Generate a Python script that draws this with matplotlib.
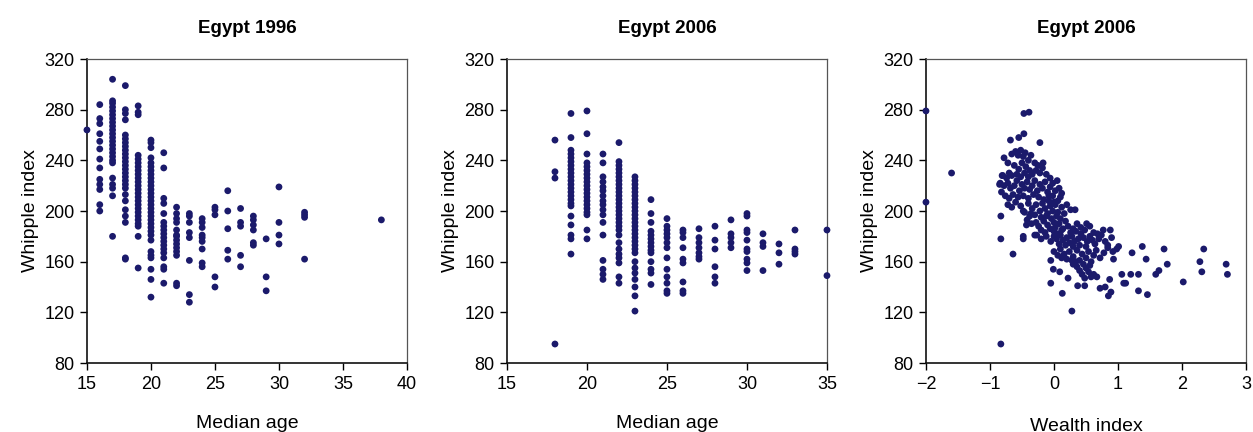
import matplotlib
matplotlib.use("Agg")
import matplotlib.pyplot as plt

# Egypt 1996: median age -> Whipple index values by age column
age_1996 = {
    15: [264],
    16: [284, 273, 269, 261, 255, 249, 241, 234, 225, 221, 217, 205, 200],
    17: [304, 287, 285, 282, 279, 276, 273, 270, 267, 264, 261, 258, 255, 252,
         249, 246, 243, 240, 238, 226, 221, 218, 212, 180],
    18: [299, 280, 277, 272, 260, 257, 254, 251, 248, 245, 242, 239, 236, 233,
         230, 227, 224, 221, 218, 213, 208, 201, 196, 191, 163, 162],
    19: [283, 278, 276, 244, 241, 238, 235, 232, 229, 226, 223, 220, 217, 214,
         211, 208, 205, 202, 199, 196, 193, 190, 188, 180, 155],
    20: [256, 254, 250, 242, 238, 235, 232, 229, 226, 223, 220, 217, 214, 211,
         208, 205, 202, 199, 196, 193, 190, 187, 184, 181, 177, 168, 165, 163,
         154, 146, 132],
    21: [246, 234, 210, 206, 198, 191, 188, 185, 182, 179, 176, 173, 170, 167,
         163, 156, 154, 143],
    22: [203, 198, 194, 191, 185, 181, 180, 177, 174, 171, 168, 165, 143, 141],
    23: [198, 196, 191, 183, 179, 161, 134, 128],
    24: [194, 191, 187, 181, 179, 176, 170, 159, 156],
    25: [203, 201, 197, 148, 140],
    26: [216, 200, 186, 169, 162],
    27: [202, 191, 188, 165, 156],
    28: [196, 193, 189, 185, 175, 173],
    29: [178, 148, 137],
    30: [219, 191, 181, 174],
    32: [199, 197, 195, 162],
    38: [193],
}

# Egypt 2006: median age -> Whipple index values by age column
age_2006 = {
    18: [256, 231, 226, 95],
    19: [277, 258, 248, 245, 242, 239, 236, 233, 230, 227, 224, 221, 218, 215,
         212, 209, 206, 204, 196, 189, 181, 178, 166],
    20: [279, 261, 245, 238, 235, 232, 229, 226, 223, 220, 217, 214, 211, 208,
         205, 202, 199, 197, 185, 178],
    21: [245, 238, 227, 223, 219, 216, 212, 208, 205, 201, 197, 191, 181, 161,
         154, 150, 146],
    22: [254, 239, 236, 233, 230, 227, 224, 221, 218, 215, 212, 209, 206, 203,
         200, 197, 194, 191, 188, 185, 181, 175, 170, 166, 163, 159, 148, 143],
    23: [227, 224, 221, 218, 215, 212, 209, 206, 203, 200, 197, 194, 191, 188,
         185, 182, 179, 176, 173, 170, 167, 160, 155, 151, 146, 140, 133, 121],
    24: [209, 198, 191, 184, 181, 178, 175, 172, 169, 167, 160, 154, 151, 142],
    25: [194, 188, 185, 182, 179, 175, 171, 163, 154, 148, 143, 137, 135],
    26: [185, 183, 179, 171, 162, 159, 144, 137, 135],
    27: [186, 179, 175, 171, 167, 164, 162],
    28: [188, 177, 170, 156, 148, 143],
    29: [193, 182, 179, 175, 171],
    30: [198, 196, 185, 183, 177, 170, 168, 162, 159, 153],
    31: [182, 175, 172, 153],
    32: [174, 167, 158],
    33: [185, 170, 168, 166],
    35: [185, 149],
}

# Egypt 2006: wealth index vs Whipple index
wealth_2006 = [
    (-2.0, 279), (-2.0, 207), (-1.60, 230), (-0.83, 95), (-0.83, 178), (-0.83, 196),
    (-0.64, 166), (-0.85, 221), (-0.82, 215), (-0.81, 228), (-0.68, 256), (-0.55, 258),
    (-0.47, 261), (-0.47, 277), (-0.39, 278), (-0.22, 254), (-0.48, 178), (-0.48, 180),
    (-0.43, 189), (-0.48, 200), (-0.38, 196), (-0.27, 181), (-0.17, 238), (-0.05, 161),
    (-0.05, 143), (-0.01, 154), (0.09, 152), (0.13, 135), (0.22, 147), (0.28, 121),
    (0.28, 161), (0.33, 201), (0.37, 141), (0.48, 141), (0.51, 190), (0.67, 148),
    (0.72, 139), (0.80, 140), (0.87, 146), (0.85, 133), (0.89, 136), (0.77, 185),
    (0.88, 185), (0.93, 162), (1.01, 172), (1.06, 150), (1.09, 143), (1.12, 143),
    (1.20, 150), (1.22, 167), (1.32, 150), (1.32, 137), (1.38, 172), (1.44, 162),
    (1.46, 134), (1.59, 150), (1.64, 153), (1.72, 170), (1.77, 158), (2.02, 144),
    (2.28, 160), (2.31, 152), (2.34, 170), (2.69, 158), (2.71, 150),
    (-0.78, 242), (-0.72, 238), (-0.66, 245), (-0.60, 247), (-0.56, 244), (-0.52, 248),
    (-0.48, 243), (-0.45, 246), (-0.40, 240), (-0.36, 244), (-0.30, 238), (-0.25, 236),
    (-0.62, 236), (-0.55, 233), (-0.50, 238), (-0.44, 235), (-0.38, 232), (-0.70, 230),
    (-0.74, 226), (-0.80, 228), (-0.66, 228), (-0.58, 229), (-0.52, 227), (-0.46, 230),
    (-0.40, 227), (-0.34, 229), (-0.28, 232), (-0.22, 230), (-0.18, 234), (-0.12, 229),
    (-0.06, 226), (-0.02, 222), (0.05, 224), (0.08, 218), (0.12, 214),
    (-0.84, 222), (-0.78, 220), (-0.72, 222), (-0.68, 218), (-0.62, 220), (-0.58, 224),
    (-0.54, 216), (-0.50, 221), (-0.46, 218), (-0.42, 223), (-0.38, 217), (-0.34, 220),
    (-0.30, 224), (-0.26, 216), (-0.22, 221), (-0.18, 218), (-0.14, 223), (-0.10, 215),
    (-0.06, 219), (-0.02, 212), (0.02, 216), (-0.76, 212), (-0.70, 210), (-0.64, 213),
    (-0.56, 211), (-0.48, 212), (-0.40, 210), (-0.32, 213), (-0.24, 211), (-0.16, 209),
    (-0.08, 212), (0.06, 208), (0.10, 211),
    (-0.72, 205), (-0.66, 203), (-0.60, 207), (-0.52, 204), (-0.46, 199), (-0.40, 206),
    (-0.34, 202), (-0.28, 205), (-0.22, 200), (-0.18, 206), (-0.14, 202), (-0.10, 198),
    (-0.06, 204), (-0.02, 200), (0.02, 205), (0.06, 199), (0.12, 203), (0.16, 198),
    (0.20, 205), (0.26, 201), (-0.30, 197), (-0.20, 195), (-0.12, 196), (-0.04, 194),
    (0.04, 196), (0.10, 194), (-0.36, 198), (-0.08, 208), (0.0, 207),
    (-0.42, 193), (-0.35, 190), (-0.28, 191), (-0.24, 188), (-0.16, 192), (-0.10, 189),
    (-0.06, 186), (0.0, 191), (0.02, 187), (0.08, 190), (0.14, 186), (0.18, 192),
    (0.22, 188), (0.30, 186), (0.36, 190), (0.42, 187), (0.48, 185), (0.56, 188),
    (-0.20, 185), (-0.14, 183), (0.0, 184), (0.06, 182), (0.12, 185), (0.26, 183),
    (0.34, 184),
    (-0.30, 181), (-0.20, 178), (-0.12, 180), (-0.05, 176), (0.0, 180), (0.04, 178),
    (0.10, 181), (0.14, 177), (0.20, 179), (0.24, 175), (0.28, 180), (0.32, 176),
    (0.38, 178), (0.42, 182), (0.46, 179), (0.52, 176), (0.56, 180), (0.60, 177),
    (0.64, 174), (0.70, 178), (0.74, 181), (0.80, 176), (0.84, 173), (0.90, 179),
    (0.62, 183), (0.68, 182), (0.30, 172), (0.40, 173), (0.50, 172), (0.18, 173),
    (0.08, 174),
    (0.0, 168), (0.06, 165), (0.10, 170), (0.16, 166), (0.20, 162), (0.24, 168),
    (0.30, 164), (0.36, 169), (0.40, 161), (0.44, 166), (0.50, 163), (0.54, 168),
    (0.58, 160), (0.62, 165), (0.66, 169), (0.72, 163), (0.78, 167), (0.84, 171),
    (0.92, 168), (0.98, 170), (0.12, 163), (0.34, 160), (0.46, 158), (0.56, 157),
    (0.36, 156), (0.40, 153), (0.44, 150), (0.50, 155), (0.54, 152), (0.58, 148),
    (0.62, 150), (0.48, 147), (0.30, 158),
]

titles = ["Egypt 1996", "Egypt 2006", "Egypt 2006"]
xlabels = ["Median age", "Median age", "Wealth index"]
xlims = [(15, 40), (15, 35), (-2, 3)]
xticks = [[15, 20, 25, 30, 35, 40], [15, 20, 25, 30, 35], [-2, -1, 0, 1, 2, 3]]
yticks = [80, 120, 160, 200, 240, 280, 320]

plt.rcParams["font.family"] = ["Liberation Sans", "DejaVu Sans"]

dot = "#1b1a6b"


def flatten(cols):
    xs, ys = [], []
    for k, vals in cols.items():
        xs += [k] * len(vals)
        ys += vals
    return xs, ys


fig = plt.figure(figsize=(12.53, 4.32), dpi=100)
lefts = [0.0694, 0.4046, 0.739]
axes = [fig.add_axes([l, 0.1597, 0.2554, 0.7037]) for l in lefts]

series = [flatten(age_1996), flatten(age_2006),
          ([p[0] for p in wealth_2006], [p[1] for p in wealth_2006])]

for i, ax in enumerate(axes):
    xs, ys = series[i]
    ax.scatter(xs, ys, s=24, color=dot, edgecolors="none", clip_on=False, zorder=3)
    ax.set_xlim(*xlims[i])
    ax.set_ylim(80, 320)
    ax.set_xticks(xticks[i])
    ax.set_yticks(yticks)
    ax.tick_params(direction="out", length=5, width=1, labelsize=13, pad=4)
    ax.set_title(titles[i], fontsize=13.5, fontweight="bold", pad=19)
    ax.set_xlabel(xlabels[i], fontsize=14, labelpad=16 if i < 2 else 18)
    ax.set_ylabel("Whipple index", fontsize=14, labelpad=4)
    for side in ["left", "bottom"]:
        ax.spines[side].set_linewidth(1.2)
        ax.spines[side].set_color("#111111")
    for side in ["top", "right"]:
        ax.spines[side].set_linewidth(0.9)
        ax.spines[side].set_color("#555555")

fig.savefig("out.png", dpi=100)
